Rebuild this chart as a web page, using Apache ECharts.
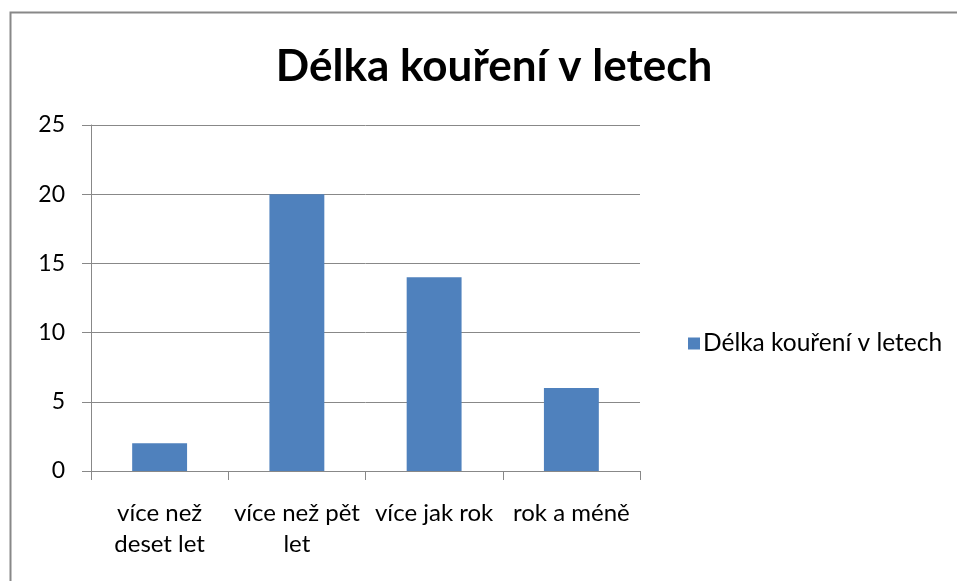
<!DOCTYPE html>
<html>
<head>
<meta charset="utf-8">
<script src="https://cdn.jsdelivr.net/npm/echarts@6/dist/echarts.min.js"></script>
<style>
  html, body { margin: 0; padding: 0; background: #fff; overflow: hidden; }
  #chart { width: 957px; height: 581px; }
</style>
</head>
<body>
<div id="chart"></div>
<script>
const titleText = 'Délka kouření v letech';
const categories = ['více než\ndeset let', 'více než pět\nlet', 'více jak rok', 'rok a méně'];
const values = [2, 20, 14, 6];
const yTicks = { min: 0, max: 25, interval: 5 };

const fontName = 'Lato';

window.onload = function () {
    const chart = echarts.init(document.getElementById('chart'));
    chart.setOption({
        animation: false,
        textStyle: { fontFamily: fontName },
        title: {
            text: titleText,
            left: 489,
            top: 40,
            textAlign: 'center',
            textStyle: { fontSize: 44, fontWeight: 'bold', color: '#000', fontFamily: fontName }
        },
        legend: {
            left: 683,
            top: 326,
            itemWidth: 12,
            itemHeight: 12,
            itemGap: 10,
            icon: 'rect',
            textStyle: { fontSize: 24.5, color: '#000', padding: [0, 0, 0, -2] },
            data: [titleText]
        },
        grid: { left: 91, right: 317, top: 125, bottom: 110 },
        xAxis: {
            type: 'category',
            data: categories,
            axisLine: { lineStyle: { color: '#888', width: 1 } },
            axisTick: { show: true, length: 9, lineStyle: { color: '#888' } },
            axisLabel: { fontSize: 24, color: '#000', margin: 27, lineHeight: 31, interval: 0 }
        },
        yAxis: {
            type: 'value',
            min: yTicks.min,
            max: yTicks.max,
            interval: yTicks.interval,
            axisLine: { show: true, lineStyle: { color: '#888' } },
            axisTick: { show: true, length: 9, lineStyle: { color: '#888' } },
            axisLabel: { fontSize: 23, color: '#000', margin: 26 },
            splitLine: { lineStyle: { color: '#888', width: 1 } }
        },
        series: [{
            name: titleText,
            type: 'bar',
            data: values,
            barCategoryGap: '60%',
            itemStyle: { color: '#4F81BD' }
        }],
        graphic: [{
            type: 'polyline',
            shape: { points: [[10.5, 581], [10.5, 12.5], [957, 12.5]] },
            style: { fill: null, stroke: '#888', lineWidth: 2 },
            silent: true
        }]
    });
};
</script>
</body>
</html>
